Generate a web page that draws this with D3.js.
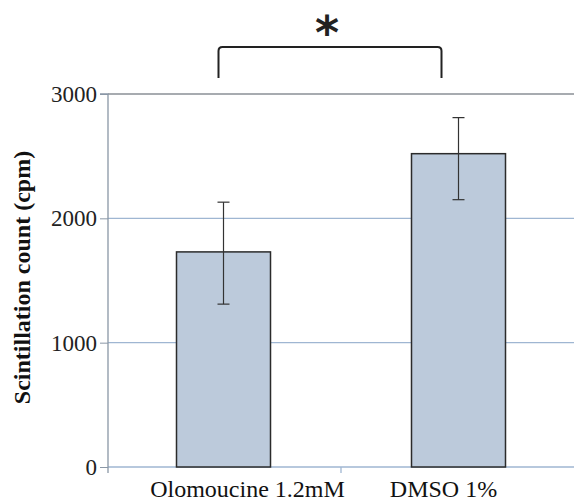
<!DOCTYPE html>
<html>
<head>
<meta charset="utf-8">
<script src="https://cdn.jsdelivr.net/npm/d3@7"></script>
<style>
  body { margin: 0; background: #fff; }
  svg { display: block; }
</style>
</head>
<body>
<svg id="chart" width="574" height="504"></svg>
<script>
// chart data
var categories = ["Olomoucine 1.2mM", "DMSO 1%"];
var means = [1730, 2520];
var errUp = [400, 290];
var errDown = [420, 370];
var yTicks = [0, 1000, 2000, 3000];
var yLabel = "Scintillation count (cpm)";
var sigMark = "*";

var svg = d3.select("#chart");
var margin = {top: 94, right: -2, bottom: 37, left: 106};
var width = +svg.attr("width");
var height = +svg.attr("height");
var innerWidth = width - margin.left - margin.right;
var innerHeight = height - margin.top - margin.bottom;

var g = svg.append("g")
	.attr("transform", `translate(${margin.left}, ${margin.top})`);

var x = d3.scaleBand()
	.domain(categories)
	.range([0, innerWidth])
	.padding(0);

var y = d3.scaleLinear()
	.domain([0, 3000])
	.range([innerHeight, 0]);

var barW = x.bandwidth() * 0.4;
var serif = "'Liberation Serif', 'DejaVu Serif', serif";

// gridlines
g.append("g")
	.selectAll("line")
	.data(yTicks)
	.enter().append("line")
	.attr("x1", 2)
	.attr("x2", width)
	.attr("y1", d => y(d))
	.attr("y2", d => y(d))
	.attr("stroke", d => d == 3000 ? "#8a8f96" : "#9fb6d2")
	.attr("stroke-width", 1.3);

// y axis
var yAxis = g.append("g")
	.attr("transform", "translate(2,0)")
	.call(d3.axisLeft(y).tickValues(yTicks).tickSize(8).tickPadding(3).tickFormat(d3.format("d")));
yAxis.select(".domain").attr("stroke", "#8a97a6").attr("stroke-width", 1.3)
	.attr("d", `M-8,0H0V${innerHeight + 6}`);
yAxis.selectAll(".tick line").attr("stroke", "#8a97a6");
yAxis.selectAll("text")
	.style("font-family", serif)
	.style("font-size", "23px")
	.attr("fill", "#222");

// category separator tick
g.append("line")
	.attr("x1", x.step())
	.attr("x2", x.step())
	.attr("y1", innerHeight)
	.attr("y2", innerHeight + 6)
	.attr("stroke", "#9fb6d2")
	.attr("stroke-width", 1.3);

// bars
g.append("g")
	.selectAll("rect")
	.data(means)
	.enter().append("rect")
	.attr("x", (d, i) => x(categories[i]) + (x.bandwidth() - barW) / 2)
	.attr("y", d => y(d))
	.attr("width", barW)
	.attr("height", d => innerHeight - y(d))
	.attr("fill", "#bccadb")
	.attr("stroke", "#2b2b2b")
	.attr("stroke-width", 1.5);

// error bars
var eb = g.append("g")
	.selectAll("g")
	.data(means)
	.enter().append("g")
	.attr("transform", (d, i) => `translate(${x(categories[i]) + x.bandwidth() / 2},0)`)
	.attr("stroke", "#333")
	.attr("stroke-width", 1.2);

eb.append("line")
	.attr("y1", (d, i) => y(d + errUp[i]))
	.attr("y2", (d, i) => y(d - errDown[i]));
eb.append("line")
	.attr("x1", -6).attr("x2", 6)
	.attr("y1", (d, i) => y(d + errUp[i]))
	.attr("y2", (d, i) => y(d + errUp[i]));
eb.append("line")
	.attr("x1", -6).attr("x2", 6)
	.attr("y1", (d, i) => y(d - errDown[i]))
	.attr("y2", (d, i) => y(d - errDown[i]));

// x labels
g.append("g")
	.selectAll("text")
	.data(categories)
	.enter().append("text")
	.attr("x", (d, i) => x(d) + x.bandwidth() / 2 + (i == 0 ? 24 : -15))
	.attr("y", innerHeight + 30)
	.attr("text-anchor", "middle")
	.style("font-family", serif)
	.style("font-size", "24px")
	.attr("fill", "#111")
	.text(d => d);

// y label
svg.append("text")
	.attr("transform", "translate(30," + (margin.top + innerHeight / 2 - 3) + ") rotate(-90)")
	.attr("text-anchor", "middle")
	.style("font-family", serif)
	.style("font-size", "24px")
	.style("font-weight", "bold")
	.attr("fill", "#111")
	.text(yLabel);

// significance bracket
var bx1 = x(categories[0]) + x.bandwidth() / 2 - 5;
var bx2 = x(categories[1]) + x.bandwidth() / 2 - 17;
var bTop = y(3000) - 47;
var bBot = y(3000) - 16;
g.append("path")
	.attr("d", `M${bx1},${bBot} V${bTop + 4} Q${bx1},${bTop} ${bx1 + 4},${bTop} H${bx2 - 4} Q${bx2},${bTop} ${bx2},${bTop + 4} V${bBot}`)
	.attr("fill", "none")
	.attr("stroke", "#222")
	.attr("stroke-width", 2);

g.append("text")
	.attr("x", (bx1 + bx2) / 2 - 3)
	.attr("y", bTop - 26)
	.attr("text-anchor", "middle")
	.style("font-family", "'DejaVu Sans', sans-serif")
	.style("font-size", "46px")
	.style("font-weight", "bold")
	.attr("fill", "#222")
	.attr("dy", "0.6em")
	.text(sigMark);
</script>
</body>
</html>
